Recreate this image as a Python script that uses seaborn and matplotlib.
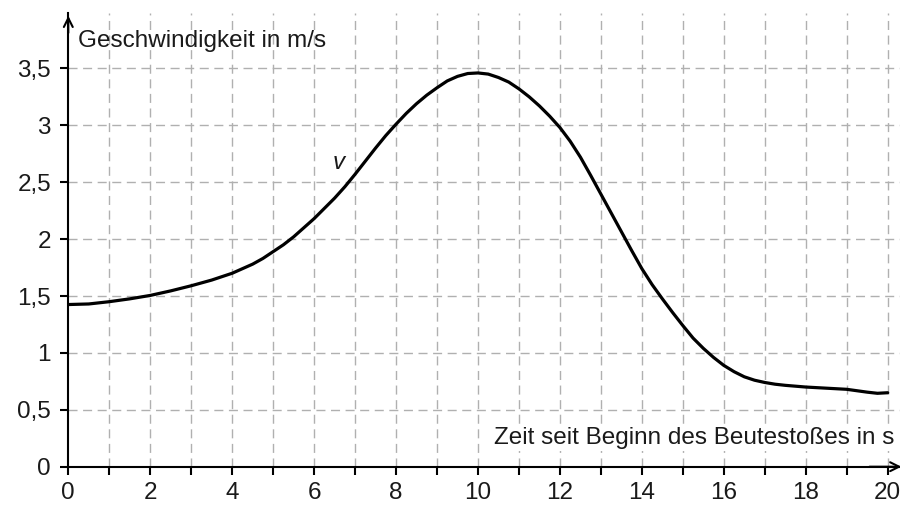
import matplotlib
matplotlib.use("Agg")
import matplotlib.pyplot as plt
import seaborn as sns
import pandas as pd

# Data (time in s, speed in m/s)
zeit = [0, 0.5, 1, 1.5, 2, 2.5, 3, 3.5, 4, 4.25, 4.5, 4.75, 5, 5.25, 5.5, 5.75, 6, 6.25,
        6.5, 6.75, 7, 7.25, 7.5, 7.75, 8, 8.25, 8.5, 8.75, 9, 9.25, 9.5, 9.75, 10,
        10.25, 10.5, 10.75, 11, 11.25, 11.5, 11.75, 12, 12.25, 12.5, 12.75, 13, 13.25,
        13.5, 13.75, 14, 14.25, 14.5, 14.75, 15, 15.25, 15.5, 15.75, 16, 16.25, 16.5,
        16.75, 17, 17.25, 17.5, 18, 18.5, 19, 19.5, 19.75, 20]
geschw = [1.425, 1.43, 1.45, 1.475, 1.505, 1.545, 1.59, 1.64, 1.70, 1.74, 1.78, 1.83,
          1.89, 1.95, 2.02, 2.10, 2.18, 2.27, 2.36, 2.46, 2.57, 2.685, 2.80, 2.91,
          3.01, 3.105, 3.19, 3.265, 3.33, 3.39, 3.43, 3.455, 3.46, 3.45, 3.42, 3.38,
          3.32, 3.25, 3.17, 3.08, 2.98, 2.86, 2.72, 2.56, 2.395, 2.23, 2.065, 1.90, 1.74,
          1.60, 1.475, 1.355, 1.24, 1.13, 1.04, 0.96, 0.89, 0.835, 0.79, 0.76, 0.74,
          0.725, 0.715, 0.70, 0.69, 0.68, 0.655, 0.645, 0.65]
x_ticks = [0, 2, 4, 6, 8, 10, 12, 14, 16, 18, 20]
y_ticks = [0, 0.5, 1, 1.5, 2, 2.5, 3, 3.5]
y_tick_labels = ["0", "0,5", "1", "1,5", "2", "2,5", "3", "3,5"]
y_title = "Geschwindigkeit in m/s"
x_title = "Zeit seit Beginn des Beutestoßes in s"
curve_label = "v"

df = pd.DataFrame({"t": zeit, "v": geschw})

sns.set_theme(style="white")
plt.rcParams["font.family"] = ["Liberation Sans", "DejaVu Sans"]
txt_color = "#1a1a1a"
fs = 17.5

fig = plt.figure(figsize=(9, 5.09), dpi=100)
ax = fig.add_axes([68.3 / 900, 1 - 466.7 / 509, (900 - 68.3) / 900, (466.7 - 13) / 509])

ax.set_xlim(0, (900 - 68.3) / 40.97)
ax.set_ylim(0, (466.7 - 13) / 113.8)

# grid
for xv in range(1, 21):
    ax.axvline(xv, color="#b0b0b0", lw=1.0, dashes=(6.5, 4), zorder=1)
for yv in y_ticks[1:]:
    ax.axhline(yv, color="#b0b0b0", lw=1.0, dashes=(6.5, 4), zorder=1)

sns.lineplot(data=df, x="t", y="v", ax=ax, color="black", lw=2.3, zorder=3,
             solid_joinstyle="round", solid_capstyle="round")

# spines
for s in ["top", "right"]:
    ax.spines[s].set_visible(False)
for s in ["left", "bottom"]:
    ax.spines[s].set_color("black")
    ax.spines[s].set_linewidth(1.5)
    ax.spines[s].set_zorder(4)

ax.set_xticks(x_ticks)
ax.set_xticks(range(0, 21), minor=True)
ax.set_yticks(y_ticks)
ax.set_yticklabels(y_tick_labels)
ax.tick_params(axis="both", which="both", direction="out", length=6, width=1.5,
               color="black", labelsize=fs, labelcolor=txt_color)
ax.tick_params(axis="x", which="both", bottom=True, pad=5)
ax.tick_params(axis="y", left=True, pad=6.5)
ax.set_xlabel("")
ax.set_ylabel("")

# arrows
ax.annotate("", xy=(0, 1.0), xycoords="axes fraction", xytext=(0, 0.95),
            arrowprops=dict(arrowstyle="->", color="black", lw=1.5, mutation_scale=16),
            annotation_clip=False)
ax.annotate("", xy=(1.005, 0), xycoords="axes fraction", xytext=(0.96, 0),
            arrowprops=dict(arrowstyle="->", color="black", lw=1.5, mutation_scale=16),
            annotation_clip=False)

ax.text(0.24, 3.74, y_title, fontsize=fs, color=txt_color, va="center", ha="left")
ax.text(20.17, 0.25, x_title, fontsize=fs, color=txt_color, va="center", ha="right",
        bbox=dict(facecolor="white", edgecolor="none", pad=1))
ax.text(6.6, 2.67, curve_label, fontsize=fs, style="italic", color=txt_color,
        va="center", ha="center")

fig.savefig("out.png", dpi=100)
